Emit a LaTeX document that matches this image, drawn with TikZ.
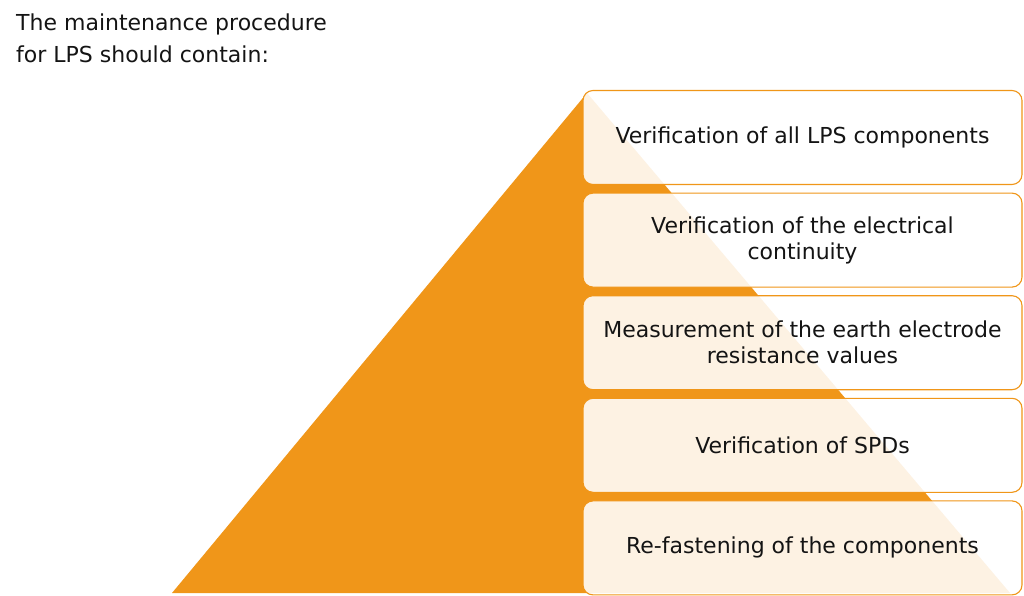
\documentclass[tikz,border=0pt]{standalone}
\usepackage{fontspec}
\setmainfont{DejaVu Sans}
\usepackage{tikz}
\usetikzlibrary{positioning}
\usepackage{xcolor}
\definecolor{lpsorange}{RGB}{240,150,25}
\definecolor{lpstext}{RGB}{20,20,20}

\begin{document}
\begin{tikzpicture}[x=1pt,y=-1pt,
  stepbox/.style={draw=lpsorange, line width=1.1pt, fill=white, fill opacity=0.88,
    text opacity=1, text=lpstext, rounded corners=10pt, minimum width=439pt,
    minimum height=94pt, align=center, inner sep=2pt,
    font=\fontsize{22}{26}\selectfont}]
\useasboundingbox (0,0) rectangle (1024,596);
%%%TITLE
\node[anchor=north west, align=left, inner sep=0pt, text=lpstext,
  font=\fontsize{22}{32}\selectfont] (title) at (16,14)
  {The maintenance procedure\\for LPS should contain:};
%%%PYRAMID
\fill[lpsorange] (172,593) -- (587,93) -- (1010,593) -- cycle;
%%%STEPS
\node[stepbox] (verify) at (802.5,137.5) {Verification of all LPS components};
\node[stepbox, below=7.5pt of verify] (continuity) {Verification of the electrical\\continuity};
\node[stepbox, below=7.5pt of continuity] (earth) {Measurement of the earth electrode\\resistance values};
\node[stepbox, below=7.5pt of earth] (spd) {Verification of SPDs};
\node[stepbox, below=7.5pt of spd] (fasten) {Re-fastening of the components};
\end{tikzpicture}
\end{document}
